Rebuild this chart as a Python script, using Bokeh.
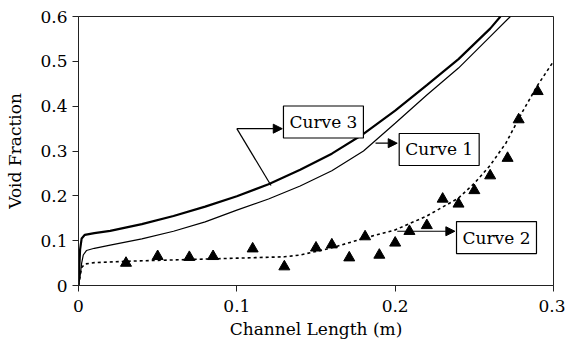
from bokeh.plotting import figure
from bokeh.models import Range1d, FixedTicker, Label, Arrow, NormalHead
from bokeh.embed import file_html
from bokeh.resources import INLINE

# ---- data ----
x_ticks = [0, 0.1, 0.2, 0.3]
x_tick_labels = ["0", "0.1", "0.2", "0.3"]
y_ticks = [0, 0.1, 0.2, 0.3, 0.4, 0.5, 0.6]
y_tick_labels = ["0", "0.1", "0.2", "0.3", "0.4", "0.5", "0.6"]

curve3_x = [0, 0.0005, 0.001, 0.002, 0.004, 0.01, 0.02, 0.04, 0.06, 0.08, 0.1, 0.12,
            0.14, 0.16, 0.18, 0.2, 0.22, 0.24, 0.26, 0.2665]
curve3_y = [0, 0.04, 0.08, 0.105, 0.113, 0.117, 0.122, 0.137, 0.155, 0.176, 0.199, 0.226,
            0.258, 0.294, 0.338, 0.39, 0.447, 0.505, 0.573, 0.6]

curve1_x = [0, 0.001, 0.002, 0.003, 0.005, 0.01, 0.02, 0.04, 0.06, 0.08, 0.1, 0.12,
            0.14, 0.16, 0.18, 0.2, 0.22, 0.24, 0.26, 0.2728]
curve1_y = [0, 0.02, 0.05, 0.068, 0.078, 0.083, 0.09, 0.104, 0.121, 0.142, 0.168, 0.193,
            0.222, 0.256, 0.3, 0.362, 0.425, 0.485, 0.555, 0.6]

curve2_x = [0, 0.001, 0.002, 0.004, 0.01, 0.03, 0.05, 0.08, 0.1, 0.12, 0.13, 0.14, 0.16,
            0.18, 0.2, 0.22, 0.24, 0.25, 0.26, 0.27, 0.28, 0.29, 0.3]
curve2_y = [0, 0.02, 0.04, 0.048, 0.051, 0.054, 0.056, 0.059, 0.061, 0.063, 0.064, 0.068,
            0.084, 0.105, 0.124, 0.155, 0.195, 0.228, 0.268, 0.318, 0.385, 0.447, 0.5]

exp_x = [0.03, 0.05, 0.07, 0.085, 0.11, 0.13, 0.15, 0.16, 0.171, 0.181, 0.19, 0.2,
         0.209, 0.22, 0.23, 0.24, 0.25, 0.26, 0.271, 0.278, 0.29]
exp_y = [0.05, 0.065, 0.063, 0.065, 0.082, 0.042, 0.084, 0.091, 0.062, 0.109, 0.068, 0.095,
         0.121, 0.134, 0.193, 0.182, 0.212, 0.245, 0.284, 0.37, 0.433]

FONT = "DejaVu Serif"

p = figure(width=565, height=349, output_backend="svg", toolbar_location=None,
           x_range=Range1d(0, 0.3), y_range=Range1d(0, 0.6),
           min_border_left=78, min_border_right=12, min_border_top=16, min_border_bottom=64)
p.grid.visible = False
p.outline_line_color = "#222222"
p.outline_line_width = 1
p.background_fill_color = "white"
p.border_fill_color = "white"

for ax, ticks, labels, title in [(p.xaxis[0], x_ticks, x_tick_labels, "Channel Length (m)"),
                                 (p.yaxis[0], y_ticks, y_tick_labels, "Void Fraction")]:
    ax.ticker = FixedTicker(ticks=ticks)
    ax.major_label_overrides = {t: l for t, l in zip(ticks, labels)}
    ax.minor_tick_line_color = None
    ax.major_tick_in = 0
    ax.major_tick_out = 6
    ax.axis_line_color = "#222222"
    ax.major_tick_line_color = "#222222"
    ax.major_label_text_font = FONT
    ax.major_label_text_font_size = "17px"
    ax.major_label_text_color = "black"
    ax.axis_label = title
    ax.axis_label_text_font = FONT
    ax.axis_label_text_font_size = "17px"
    ax.axis_label_text_font_style = "normal"
    ax.axis_label_text_color = "black"

p.yaxis[0].major_label_standoff = 5
p.yaxis[0].axis_label_standoff = 12
p.xaxis[0].major_label_standoff = 8
p.xaxis[0].axis_label_standoff = 4

p.line(curve2_x, curve2_y, line_color="black", line_width=1.6, line_dash="3 3")
p.line(curve1_x, curve1_y, line_color="black", line_width=1.2)
p.line(curve3_x, curve3_y, line_color="black", line_width=2.2)
p.scatter(exp_x, exp_y, marker="triangle", size=11, fill_color="black", line_color="black")

# annotation boxes
for x, y, t in [(0.1547, 0.3647, "Curve 3"), (0.2278, 0.3034, "Curve 1"), (0.264, 0.107, "Curve 2")]:
    p.add_layout(Label(x=x, y=y, text=t, text_font=FONT, text_font_size="17px",
                       text_align="center", text_baseline="middle", text_color="black",
                       border_line_color="black", border_line_width=1.2,
                       background_fill_color="white", padding=6))

for x0, y0, x1, y1 in [(0.1, 0.3498, 0.1287, 0.3498), (0.1876, 0.3174, 0.2013, 0.3174),
                       (0.2013, 0.121, 0.2377, 0.121)]:
    p.add_layout(Arrow(x_start=x0, y_start=y0, x_end=x1, y_end=y1, line_color="black",
                       line_width=1.2,
                       end=NormalHead(size=9, fill_color="black", line_color="black")))

p.segment(x0=[0.1], y0=[0.3498], x1=[0.1216], y1=[0.223], line_color="black", line_width=1.2)

open("out.html", "w").write(file_html(p, INLINE))
